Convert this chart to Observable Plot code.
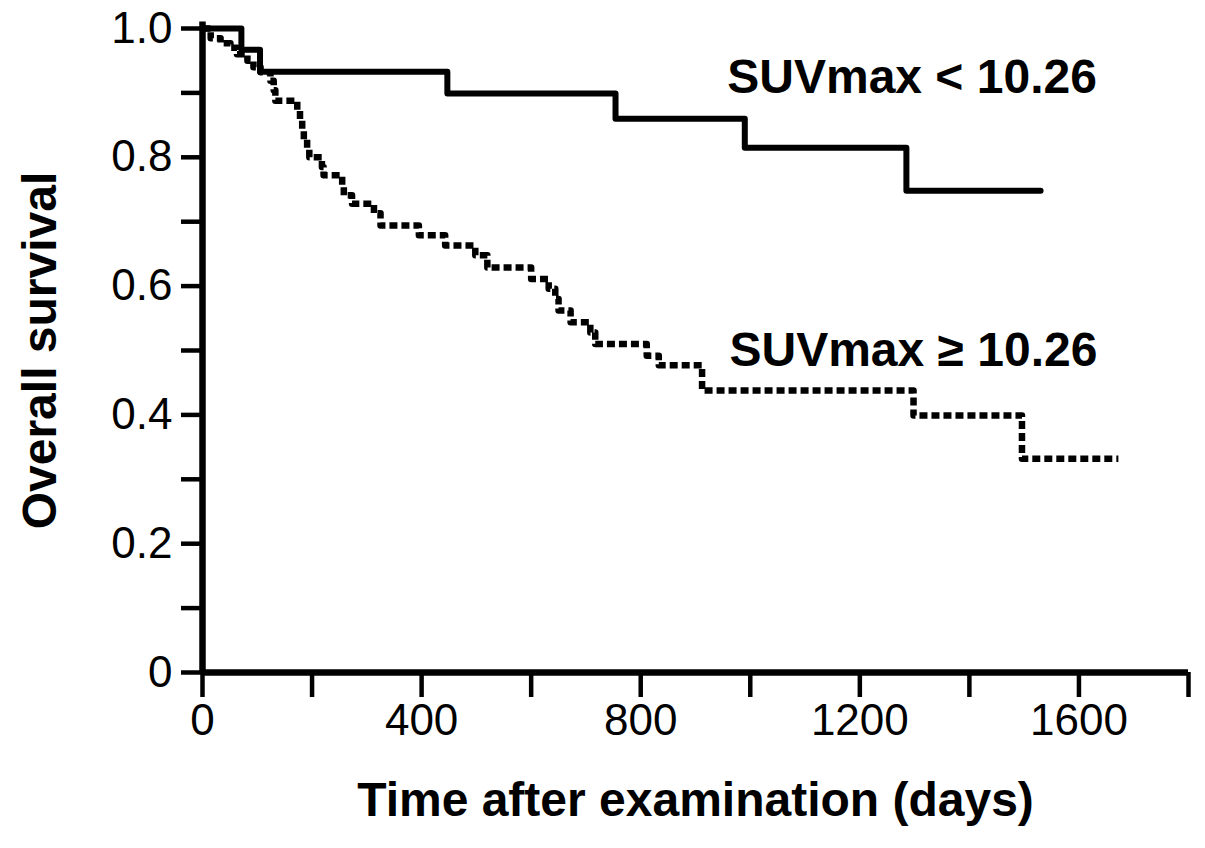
<!DOCTYPE html>
<html>
<head>
<meta charset="utf-8">
<script src="https://cdn.jsdelivr.net/npm/d3@7"></script>
<script src="https://cdn.jsdelivr.net/npm/@observablehq/plot@0.6"></script>
<style>
  html, body { margin: 0; padding: 0; background: #fff; }
</style>
</head>
<body>
<div id="chart"></div>
<script>
// SUVmax < 10.26 (solid)
const lowTimes = [0, 71, 105, 447, 754, 990, 1285, 1530];
const lowSurv  = [1.0, 0.967, 0.933, 0.899, 0.86, 0.815, 0.748, 0.748];

// SUVmax >= 10.26 (dotted)
const highTimes = [0, 15, 33, 51, 63, 82, 93, 106, 124, 130, 133, 173, 178, 182, 185, 191, 195, 218, 221, 255, 258, 273, 313, 325, 395, 443, 498, 520, 600, 632, 644, 650, 672, 708, 717, 811, 833, 912, 1298, 1496, 1672];
const highSurv  = [1.0, 0.985, 0.977, 0.97, 0.96, 0.95, 0.94, 0.932, 0.919, 0.904, 0.888, 0.873, 0.858, 0.842, 0.828, 0.813, 0.80, 0.785, 0.772, 0.756, 0.741, 0.728, 0.713, 0.694, 0.679, 0.663, 0.648, 0.629, 0.611, 0.596, 0.580, 0.562, 0.544, 0.528, 0.51, 0.492, 0.477, 0.438, 0.399, 0.332, 0.332];

const xTicks = d3.range(0, 1801, 200);
const yTicks = d3.range(0, 11).map(i => i / 10);

const lowData = lowTimes.map((t, i) => ({t, s: lowSurv[i]}));
const highData = highTimes.map((t, i) => ({t, s: highSurv[i]}));

const chart = Plot.plot({
  width: 1205,
  height: 848,
  marginLeft: 202,
  marginRight: 17,
  marginTop: 28,
  marginBottom: 176,
  style: {fontFamily: "'Liberation Sans', Arial, sans-serif", fontSize: "44px", color: "black", background: "white"},
  x: {domain: [0, 1800]},
  y: {domain: [0, 1]},
  marks: [
    Plot.axisX({ticks: xTicks, tickSize: 25, tickPadding: 6, strokeWidth: 4.5,
      tickFormat: d => (d % 400 === 0 ? String(d) : ""), label: null}),
    Plot.axisY({ticks: yTicks, tickSize: 21, tickPadding: 9, strokeWidth: 4.5,
      tickFormat: d => { const k = Math.round(d * 10); return k % 2 === 0 ? (k === 0 ? "0" : d.toFixed(1)) : ""; }, label: null}),
    Plot.ruleX([0], {y1: 0, y2: 1.01, strokeWidth: 6.5}),
    Plot.ruleY([0], {x1: 0, x2: 1800, strokeWidth: 6.5}),
    Plot.line(highData, {x: "t", y: "s", curve: "step-after", strokeWidth: 6.5, strokeDasharray: "8,4", strokeLinecap: "butt"}),
    Plot.line(lowData, {x: "t", y: "s", curve: "step-after", strokeWidth: 6}),
    Plot.text(["SUVmax < 10.26"], {x: 958, y: 0.924, text: d => d, textAnchor: "start", fontWeight: "bold", fontSize: 48}),
    Plot.text(["SUVmax \u2265 10.26"], {x: 962, y: 0.50, text: d => d, textAnchor: "start", fontWeight: "bold", fontSize: 48}),
    Plot.text(["Time after examination (days)"], {frameAnchor: "bottom", dy: 143, text: d => d, fontWeight: "bold", fontSize: 48}),
    Plot.text(["Overall survival"], {frameAnchor: "left", dx: -162, rotate: -90, textAnchor: "middle", text: d => d, fontWeight: "bold", fontSize: 48})
  ]
});
document.getElementById("chart").appendChild(chart);
</script>
</body>
</html>
